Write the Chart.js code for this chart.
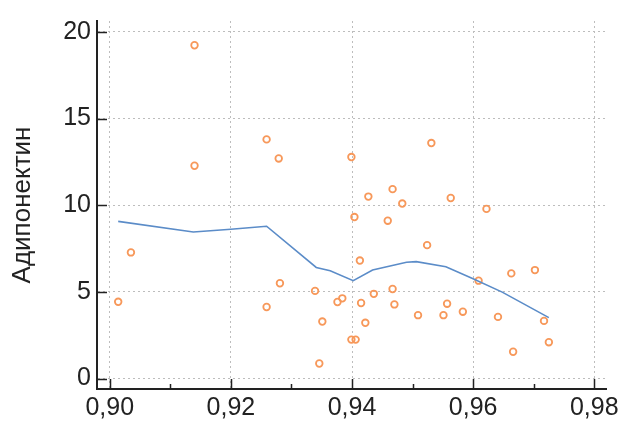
<!DOCTYPE html>
<html>
<head>
<meta charset="utf-8">
<script src="https://cdn.jsdelivr.net/npm/chart.js@4/dist/chart.umd.min.js"></script>
<style>
  html, body { margin: 0; padding: 0; background: #fff; }
  #wrap { width: 623px; height: 423px; }
</style>
</head>
<body>
<div id="wrap"><canvas id="chart"></canvas></div>
<script>
// scatter values
const pointX = [0.9014, 0.9035, 0.9140, 0.9140, 0.9259, 0.9279, 0.9259, 0.9281, 0.9339, 0.9351,
  0.9346, 0.9376, 0.9384, 0.9399, 0.9404, 0.9399, 0.9406, 0.9413, 0.9415, 0.9422,
  0.9427, 0.9436, 0.9459, 0.9467, 0.9467, 0.9470, 0.9483, 0.9509, 0.9524, 0.9531,
  0.9551, 0.9557, 0.9563, 0.9583, 0.9609, 0.9622, 0.9641, 0.9663, 0.9666, 0.9702,
  0.9717, 0.9725];
const pointY = [4.43, 7.28, 19.23, 12.28, 13.80, 12.70, 4.13, 5.50, 5.06, 3.29,
  0.87, 4.42, 4.63, 12.78, 9.32, 2.25, 2.25, 6.81, 4.36, 3.22,
  10.50, 4.89, 9.11, 10.93, 5.17, 4.28, 10.10, 3.66, 7.70, 13.59,
  3.66, 4.32, 10.42, 3.86, 5.65, 9.79, 3.56, 6.07, 1.55, 6.26,
  3.33, 2.10];

// smoothed trend line
const lineX = [0.9014, 0.9138, 0.9200, 0.9259, 0.9341, 0.9364, 0.9402, 0.9434, 0.9490, 0.9506, 0.9555, 0.9599, 0.9648, 0.9725];
const lineY = [9.07, 8.46, 8.62, 8.79, 6.41, 6.22, 5.65, 6.26, 6.71, 6.75, 6.45, 5.77, 4.99, 3.52];

const xMajor = [0.90, 0.92, 0.94, 0.96, 0.98];
const xMinor = [0.91, 0.93, 0.95, 0.97];
const yMajor = [0, 5, 10, 15, 20];

const yTitle = 'Адипонектин';
const fontFamily = 'Arial, "Liberation Sans", sans-serif';

const scatterData = pointX.map((x, i) => ({x: x, y: pointY[i]}));
const lineData = lineX.map((x, i) => ({x: x, y: lineY[i]}));

// inward tick marks, drawn on the axes
const innerTicks = {
  id: 'innerTicks',
  afterDraw(chart) {
    const ctx = chart.ctx;
    const xs = chart.scales.x, ys = chart.scales.y;
    const bottom = chart.chartArea.bottom, left = chart.chartArea.left;
    ctx.save();
    ctx.strokeStyle = '#222';
    ctx.lineWidth = 1.5;
    ctx.beginPath();
    xMajor.forEach(v => {
      const px = Math.round(xs.getPixelForValue(v)) + 0.5;
      ctx.moveTo(px, bottom); ctx.lineTo(px, bottom - 10);
    });
    xMinor.forEach(v => {
      const px = Math.round(xs.getPixelForValue(v)) + 0.5;
      ctx.moveTo(px, bottom); ctx.lineTo(px, bottom - 5);
    });
    yMajor.forEach(v => {
      const py = Math.round(ys.getPixelForValue(v)) + 0.5;
      ctx.moveTo(left, py); ctx.lineTo(left + 10, py);
    });
    ctx.stroke();
    ctx.restore();
  }
};

new Chart(document.getElementById('chart'), {
  type: 'scatter',
  data: {
    datasets: [
      {
        type: 'line',
        data: lineData,
        borderColor: '#5B8CC8',
        borderWidth: 1.6,
        pointRadius: 0,
        fill: false,
        tension: 0
      },
      {
        data: scatterData,
        pointStyle: 'circle',
        pointRadius: 3.3,
        borderWidth: 1.8,
        borderColor: '#F7985A',
        backgroundColor: 'rgba(255,255,255,0)'
      }
    ]
  },
  options: {
    responsive: true,
    maintainAspectRatio: false,
    animation: false,
    layout: { padding: { left: 0, right: 16, top: 16, bottom: 0 } },
    plugins: { legend: { display: false }, tooltip: { enabled: false } },
    scales: {
      x: {
        type: 'linear',
        min: 0.8979,
        max: 0.98205,
        afterFit(scale) { scale.height = 34; },
        ticks: {
          stepSize: 0.02,
          includeBounds: false,
          autoSkip: false,
          maxRotation: 0,
          padding: 4,
          color: '#222',
          font: { family: fontFamily, size: 25 },
          callback: v => v.toFixed(2).replace('.', ',')
        },
        grid: { color: '#bdbdbd', lineWidth: 1, drawTicks: false },
        border: { color: '#222', width: 2, dash: [2, 3] }
      },
      y: {
        type: 'linear',
        min: -0.6,
        max: 20.63,
        afterFit(scale) { scale.width = 97; },
        title: {
          display: true,
          text: yTitle,
          color: '#222',
          font: { family: fontFamily, size: 26 },
          padding: { top: 7, bottom: 0 }
        },
        ticks: {
          stepSize: 5,
          includeBounds: false,
          autoSkip: false,
          padding: 6,
          color: '#222',
          font: { family: fontFamily, size: 25 }
        },
        grid: { color: '#bdbdbd', lineWidth: 1, drawTicks: false },
        border: { color: '#222', width: 2, dash: [2, 3] }
      }
    }
  },
  plugins: [innerTicks]
});
</script>
</body>
</html>
